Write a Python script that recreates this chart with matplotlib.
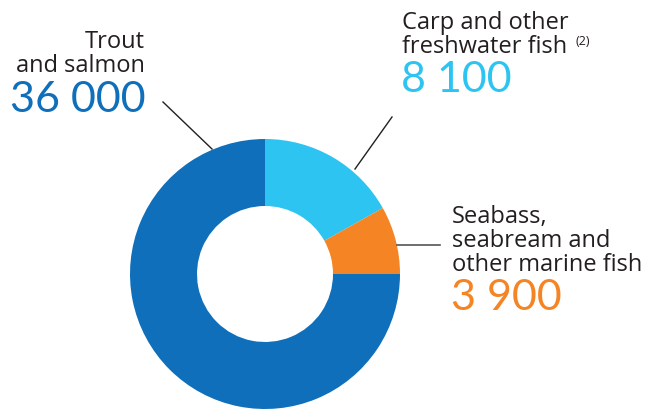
import matplotlib.pyplot as plt

# data
labels = ["Carp and other freshwater fish", "Seabass, seabream and other marine fish", "Trout and salmon"]
values = [8100, 3900, 36000]
value_text = ["8 100", "3 900", "36 000"]
colors = ["#2ec4f1", "#f58524", "#0f6fba"]
dark = "#231f20"

plt.rcParams['font.family'] = ['Open Sans', 'DejaVu Sans']

fig = plt.figure(figsize=(6.52, 4.10), dpi=100)
ax = fig.add_axes([0, 0, 1, 1])
ax.set_xlim(0, 652)
ax.set_ylim(0, 410)
ax.set_aspect('equal')
ax.axis('off')

# donut, center in pixel coords (y up)
ax.pie(values, colors=colors, center=(265, 135), radius=135, startangle=90,
       counterclock=False, wedgeprops=dict(width=67, linewidth=0))
ax.set_xlim(0, 652)
ax.set_ylim(0, 410)

H = 410
# leader lines
ax.plot([163, 212], [H - 103, H - 150], color=dark, lw=1)
ax.plot([392, 355], [H - 118, H - 170], color=dark, lw=1)
ax.plot([397, 440], [H - 246, H - 246], color="#555555", lw=1.2)

lab_size = 17
num_size = 31
num_font = ['Lato', 'DejaVu Sans']

# trout and salmon
ax.text(145, H - 48, "Trout", ha='right', va='baseline', fontsize=lab_size, color=dark)
ax.text(145, H - 72, "and salmon", ha='right', va='baseline', fontsize=lab_size, color=dark)
ax.text(146, H - 112, value_text[2], ha='right', va='baseline', fontsize=num_size,
        color=colors[2], family=num_font)

# carp
ax.text(402, H - 29, "Carp and other", ha='left', va='baseline', fontsize=lab_size, color=dark)
ax.text(402, H - 53, "freshwater fish", ha='left', va='baseline', fontsize=lab_size, color=dark)
ax.text(576, H - 45, "(2)", ha='left', va='baseline', fontsize=9, color=dark)
ax.text(401, H - 92, value_text[0], ha='left', va='baseline', fontsize=num_size,
        color=colors[0], family=num_font)

# seabass
ax.text(452, H - 223, "Seabass,", ha='left', va='baseline', fontsize=lab_size, color=dark)
ax.text(452, H - 247, "seabream and", ha='left', va='baseline', fontsize=lab_size, color=dark)
ax.text(452, H - 271, "other marine fish", ha='left', va='baseline', fontsize=lab_size, color=dark)
ax.text(451, H - 310, value_text[1], ha='left', va='baseline', fontsize=num_size,
        color=colors[1], family=num_font)

fig.savefig("out.png", dpi=100)
